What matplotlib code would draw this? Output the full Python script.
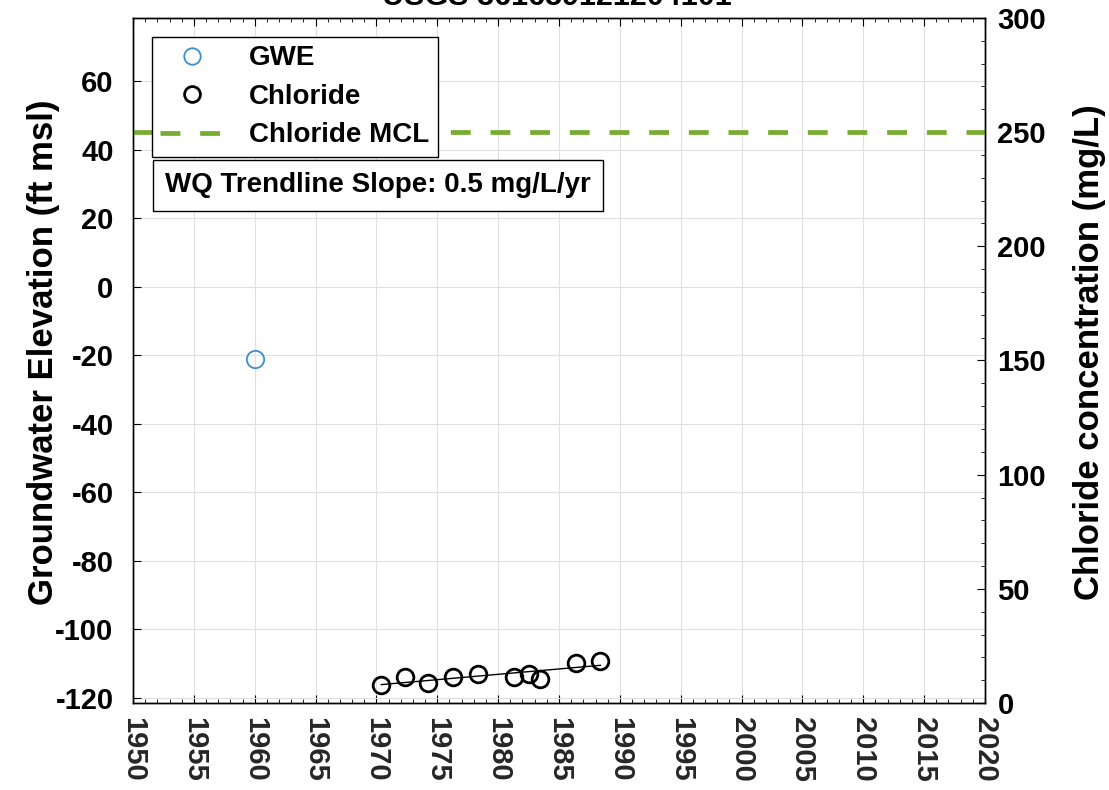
import numpy as np
import matplotlib
matplotlib.use("Agg")
import matplotlib.pyplot as plt
from matplotlib.ticker import MultipleLocator

plt.rcParams['font.family'] = ['Liberation Sans', 'DejaVu Sans']
plt.rcParams['font.weight'] = 'bold'
plt.rcParams['axes.unicode_minus'] = False

# data
title = 'USGS 361659121204101'
gwe_years = [1960.0]
gwe_values = [-21.0]
cl_years = [1970.4, 1972.35, 1974.25, 1976.25, 1978.35, 1981.3, 1982.5, 1983.4, 1986.4, 1988.4]
cl_values = [7.8, 11.4, 8.6, 11.4, 12.6, 11.4, 12.9, 10.4, 17.7, 18.4]
mcl = 250
slope_text = 'WQ Trendline Slope: 0.5 mg/L/yr'
x_ticks = list(range(1950, 2021, 5))
left_ticks = list(range(-120, 61, 20))
right_ticks = list(range(0, 301, 50))

W, H = 1109, 790
fig = plt.figure(figsize=(W / 100, H / 100), dpi=100)
ax = fig.add_axes([133 / W, 1 - 703 / H, (985 - 133) / W, (703 - 18) / H])
ax2 = ax.twinx()

# groundwater elevation (left)
h_gwe, = ax.plot(gwe_years, gwe_values, 'o', mfc='none', mec='#3a8fd0',
                 mew=1.3, ms=12.5, label='GWE')
ax.set_xlim(1950, 2020)
ax.set_ylim(-121.5, 78.5)
ax.set_xticks(x_ticks)
ax.xaxis.set_minor_locator(MultipleLocator(1))
ax.set_yticks(left_ticks)
ax.grid(True, which='major', color='#e0e0e0', lw=0.8)
ax.set_axisbelow(True)
ax.tick_params(axis='x', which='both', direction='in', top=True, labelsize=21,
               labelrotation=-90, pad=10, labelcolor='#262626')
ax.tick_params(axis='x', which='major', length=6)
ax.tick_params(axis='x', which='minor', length=3)
ax.tick_params(axis='y', direction='in', length=6, labelsize=21, pad=14)
ax.set_ylabel('Groundwater Elevation (ft msl)', fontsize=25, fontweight='bold')
ax.yaxis.set_label_coords((60 - 133) / 852, 0.512)
for lab in ax.get_xticklabels():
    lab.set_va('top')

# chloride (right)
fit = np.polyfit(cl_years, cl_values, 1)
tx = np.array([min(cl_years), max(cl_years)])
ax2.plot(tx, np.polyval(fit, tx), color='black', lw=1.0, zorder=2)
h_cl, = ax2.plot(cl_years, cl_values, 'o', mfc='none', mec='black', mew=2.0,
                 ms=12, label='Chloride', zorder=3)
h_mcl = ax2.axhline(mcl, color='#77AC30', lw=3.4, ls=(0, (4.2, 4.2)),
                    label='Chloride MCL')
ax2.set_ylim(0, 300)
ax2.set_yticks(right_ticks)
ax2.yaxis.set_minor_locator(MultipleLocator(10))
ax2.tick_params(axis='y', which='both', direction='in', labelsize=21, pad=9)
ax2.tick_params(axis='y', which='major', length=6)
ax2.tick_params(axis='y', which='minor', length=3)
ax2.set_ylabel('Chloride concentration (mg/L)', fontsize=25, fontweight='bold')
ax2.yaxis.set_label_coords((1073 - 133) / 852, 0.512)

for a in (ax, ax2):
    for s in a.spines.values():
        s.set_linewidth(1.0)

leg = ax2.legend(handles=[h_gwe, h_cl, h_mcl], loc='upper left',
                 bbox_to_anchor=(152 / W, 1 - 37 / H), bbox_transform=fig.transFigure,
                 prop={'weight': 'bold', 'size': 20}, frameon=True, markerscale=0.95,
                 fancybox=False, edgecolor='black', framealpha=1, handlelength=2.3,
                 borderpad=0.3, labelspacing=0.45, handletextpad=0.9, borderaxespad=0)
leg.get_frame().set_linewidth(1.0)
leg.set_zorder(10)

fig.text(165 / W, 1 - 185 / H, slope_text, fontsize=20, fontweight='bold',
         va='center', ha='left', zorder=11,
         bbox=dict(boxstyle='square,pad=0.45', fc='white', ec='black', lw=1.0))

fig.text(557 / W, 1 - 5 / H, title, fontsize=22, fontweight='bold',
         ha='center', va='baseline')

fig.savefig('out.png', dpi=100)
